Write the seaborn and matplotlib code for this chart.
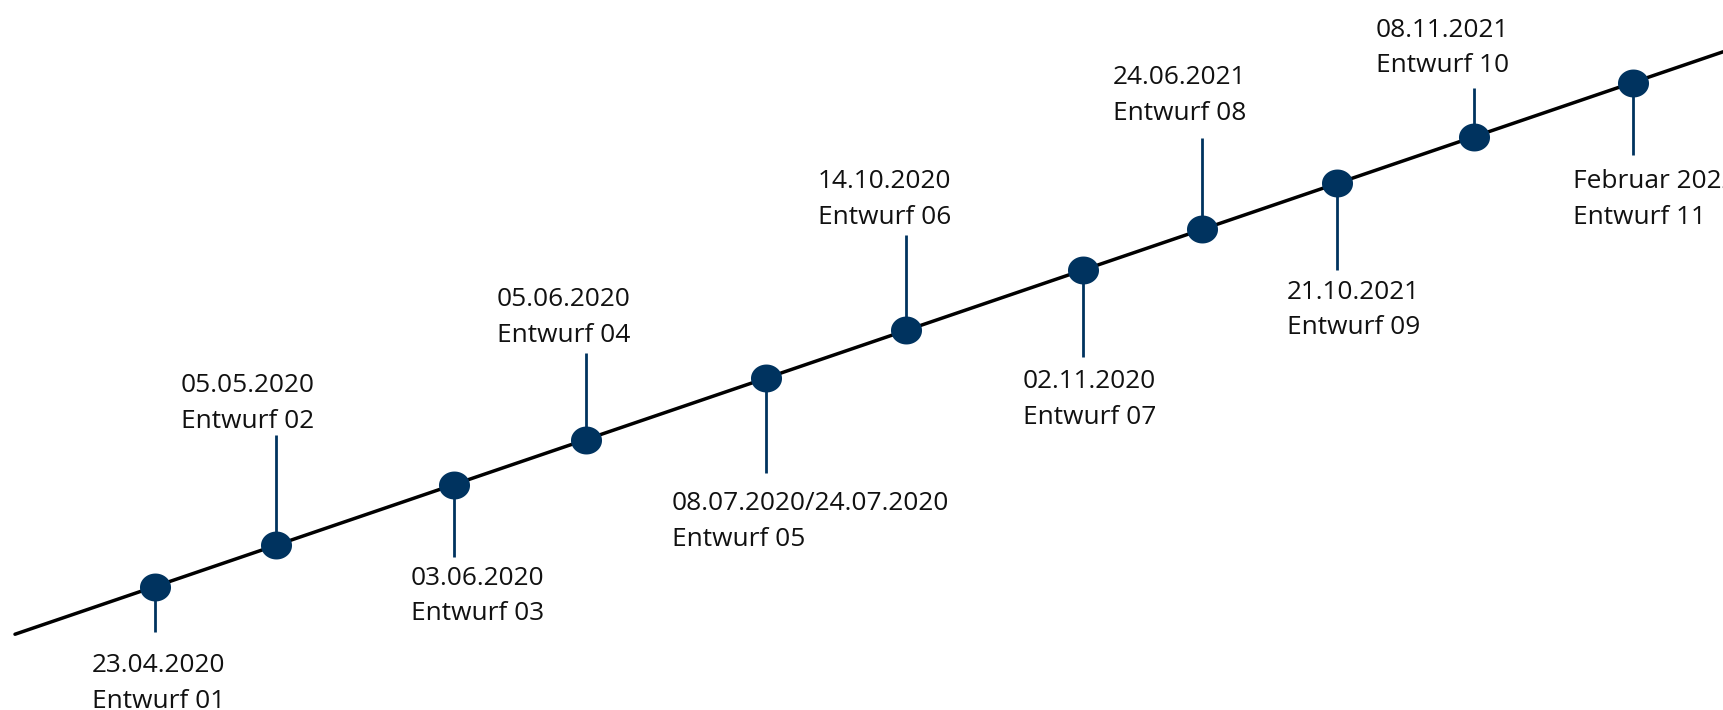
import numpy as np
import matplotlib
matplotlib.use("Agg")
import matplotlib.pyplot as plt
from matplotlib.path import Path
import seaborn as sns

# ---- data ----
dates = ["23.04.2020", "05.05.2020", "03.06.2020", "05.06.2020",
         "08.07.2020/24.07.2020", "14.10.2020", "02.11.2020", "24.06.2021",
         "21.10.2021", "08.11.2021", "Februar 2022"]
drafts = ["Entwurf 01", "Entwurf 02", "Entwurf 03", "Entwurf 04", "Entwurf 05",
          "Entwurf 06", "Entwurf 07", "Entwurf 08", "Entwurf 09", "Entwurf 10",
          "Entwurf 11"]
timeline_pos = [155, 276, 454, 586, 766, 906, 1083, 1202, 1337, 1474, 1633]

# ---- layout (pixel-like axis units) ----
stem_end = [632, 435, 557, 353, 473, 235, 357, 138, 270, 88, 155]
label_x = [92, 181, 411, 497, 672, 818, 1023, 1113, 1287, 1376, 1573]
label_base = [672, 392, 585, 306, 510, 188, 388, 84, 299, 37, 188]
line_gap = 35.5

NAVY = "#00335f"
W, H = 1723, 710

def line_y(x):
    return 586.5 - 0.341 * (np.asarray(x, dtype=float) - 155)

sns.set_theme(style="white")
plt.rcParams["font.family"] = ["Open Sans", "DejaVu Sans"]

fig = plt.figure(figsize=(W / 100, H / 100), dpi=100)
ax = fig.add_axes([0, 0, 1, 1])
ax.set_xlim(0, W)
ax.set_ylim(H, 0)
ax.axis("off")

# main timeline
lx = [15, W]
sns.lineplot(x=lx, y=line_y(lx), color="black", linewidth=2.5, ax=ax, zorder=2)

px = np.array(timeline_pos, dtype=float)
py = line_y(px)

# stems
ax.vlines(px, py, stem_end, colors=NAVY, linewidth=2.0, zorder=1)

# ellipse markers
t = np.linspace(0, 2 * np.pi, 60)
verts = np.column_stack([np.cos(t), 0.9 * np.sin(t)])
ell = Path(verts, closed=True)
sns.scatterplot(x=px, y=py, marker=ell, s=500, color=NAVY, edgecolor=NAVY,
                linewidth=0, ax=ax, zorder=3)

for d, e, x, b in zip(dates, drafts, label_x, label_base):
    ax.text(x, b, d, fontsize=18.9, color="#111111", ha="left", va="baseline")
    ax.text(x, b + line_gap, e, fontsize=18.9, color="#111111", ha="left", va="baseline")

fig.savefig("out.png", dpi=100)
